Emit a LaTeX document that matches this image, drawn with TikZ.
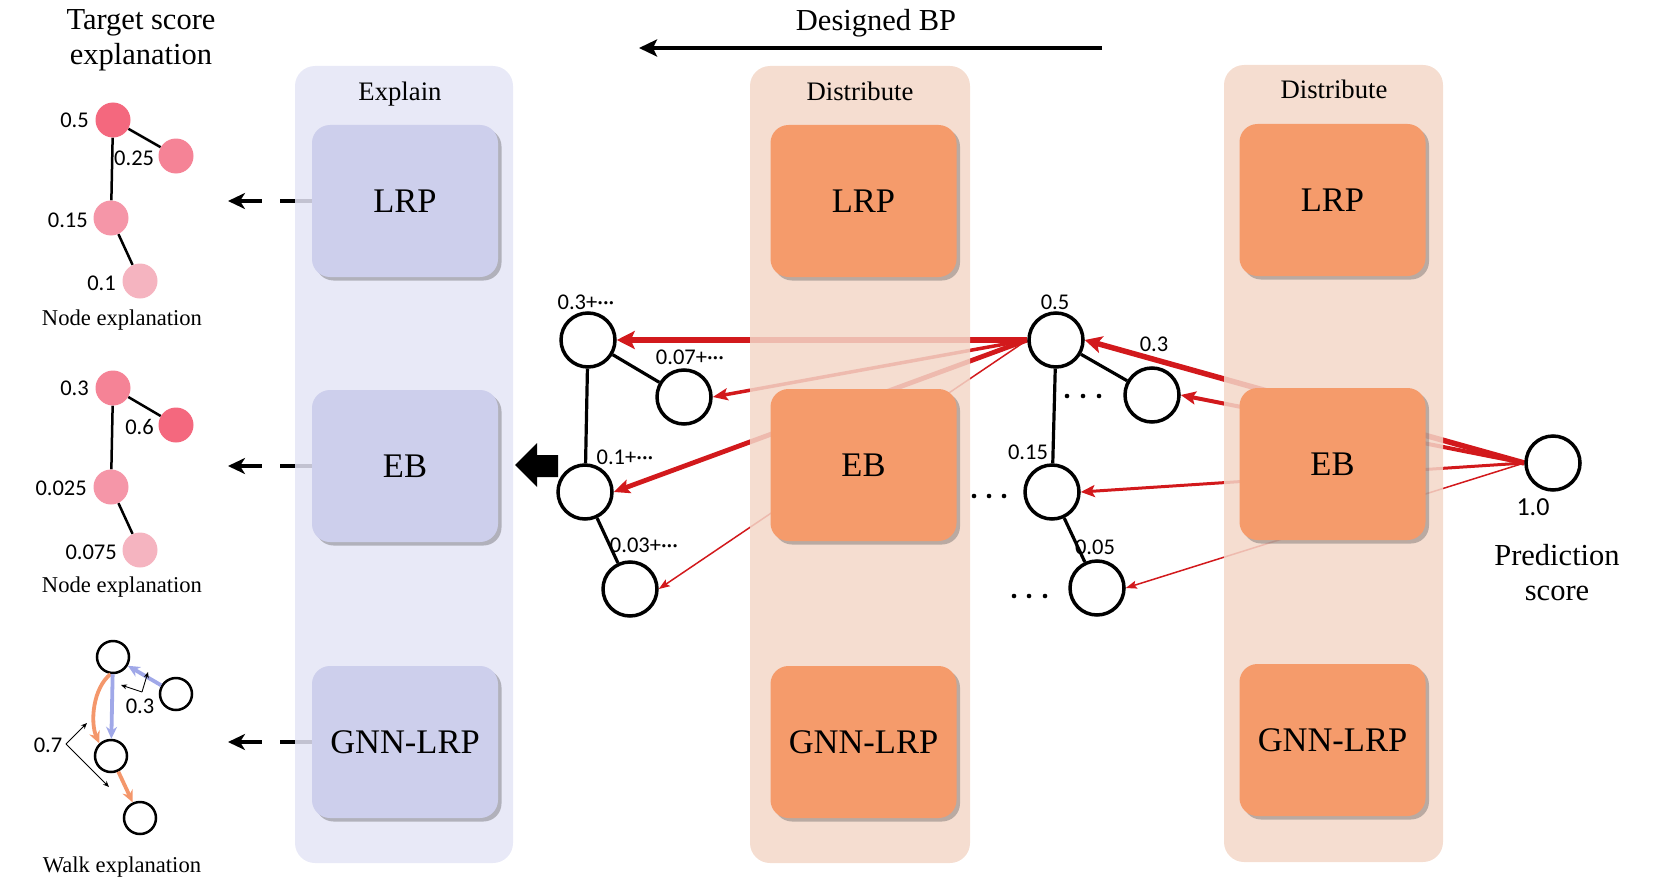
\documentclass[tikz,border=0pt]{standalone}
\usepackage{fontspec}
\setmainfont{Liberation Serif}
\newfontfamily\numfont{Carlito}
\usetikzlibrary{arrows.meta,shadows}
\pgfdeclarelayer{lines}
\pgfdeclarelayer{panels}
\pgfsetlayers{lines,panels,main}
\definecolor{exPanel}{RGB}{228,229,246}
\definecolor{exBox}{RGB}{205,207,236}
\definecolor{diPanel}{RGB}{243,215,200}
\definecolor{diBox}{RGB}{245,155,107}
\definecolor{redA}{RGB}{210,25,28}
\definecolor{pinkA}{RGB}{244,104,126}
\definecolor{pinkB}{RGB}{245,131,150}
\definecolor{pinkC}{RGB}{245,150,168}
\definecolor{pinkD}{RGB}{245,180,192}
\definecolor{walkBlue}{RGB}{160,168,232}
\definecolor{walkOrange}{RGB}{244,151,107}
\begin{document}
\begin{tikzpicture}[x=1pt,y=-1pt,
  methbox/.style={rounded corners=18pt, minimum width=186pt, minimum height=152pt, inner sep=0pt,
    font=\fontsize{34.5}{40}\selectfont,
    drop shadow={shadow xshift=3.5pt, shadow yshift=-3.5pt, opacity=0.35, fill=black!70}},
  exbox/.style={methbox, fill=exBox},
  dibox/.style={methbox, fill=diBox},
  pnode/.style={circle, minimum size=35pt, inner sep=0pt},
  wnode/.style={circle, draw, line width=2.5pt, fill=white, minimum size=32pt, inner sep=0pt},
  gnode/.style={circle, draw, line width=3.5pt, fill=white, minimum size=54pt, inner sep=0pt},
  numlab/.style={font=\numfont\fontsize{22.5}{26}\selectfont, inner sep=0pt},
  serlab/.style={font=\fontsize{22.6}{27}\selectfont, inner sep=0pt},
  biglab/.style={font=\fontsize{30.5}{36}\selectfont, inner sep=0pt, anchor=base},
  panlab/.style={font=\fontsize{26.7}{31}\selectfont, inner sep=0pt, anchor=base},
  pedge/.style={line width=2.5pt},
  gedge/.style={line width=3.2pt},
  dasharr/.style={line width=3.5pt, dash pattern=on 32pt off 18pt on 300pt,
    -{Stealth[length=17pt,width=16pt,inset=5pt]}},
  redarr/.style={draw=redA, color=redA},
  walkarr/.style={line width=3.8pt, -{Stealth[length=12pt,width=11pt]}},
  annot/.style={line width=0.9pt, -{Stealth[length=6pt,width=5pt]}},
  dotmark/.style={circle, fill=black, inner sep=0pt, minimum size=4.6pt}
]
\useasboundingbox (0,0) rectangle (1661,888);

% ---------- titles ----------
\node[biglab] (t1) at (141,30) {Target score};
\node[biglab] (t2) at (141,65) {explanation};
\node[biglab] (bp) at (876,31) {Designed BP};
\coordinate (bpR) at (1102,48);
\coordinate (bpL) at (639,48);
\draw[line width=3.3pt, -{Stealth[length=18pt,width=17pt,inset=4pt]}] (bpR) -- (bpL);

% ---------- panels ----------
\begin{pgfonlayer}{panels}
  \fill[exPanel, opacity=0.85, rounded corners=20pt] (295,66) rectangle (513,863);
  \fill[diPanel, opacity=0.85, rounded corners=20pt] (750,66) rectangle (970,863);
  \fill[diPanel, opacity=0.85, rounded corners=20pt] (1224,65) rectangle (1443,862);
\end{pgfonlayer}
\node[panlab] (pl1) at (400,101) {Explain};
\node[panlab] (pl2) at (860,101) {Distribute};
\node[panlab] (pl3) at (1334,99) {Distribute};

% ---------- method boxes ----------
\node[exbox] (exLRP) at (405,201) {LRP};
\node[exbox] (exEB)  at (405,466) {EB};
\node[exbox] (exGNN) at (405,742) {GNN-LRP};
\node[dibox] (d1LRP) at (863.5,201) {LRP};
\node[dibox] (d1EB)  at (863.5,465) {EB};
\node[dibox] (d1GNN) at (863.5,742) {GNN-LRP};
\node[dibox] (d2LRP) at (1332.5,200) {LRP};
\node[dibox] (d2EB)  at (1332.5,464) {EB};
\node[dibox] (d2GNN) at (1332.5,740) {GNN-LRP};

% ---------- left explanation graphs ----------
\node[pnode, fill=pinkA] (a1) at (113,120) {};
\node[pnode, fill=pinkB] (a2) at (176,156) {};
\node[pnode, fill=pinkC] (a3) at (111,218) {};
\node[pnode, fill=pinkD] (a4) at (140,281) {};
\node[numlab, anchor=east] (la1) at (89,120) {0.5};
\node[numlab, anchor=west] (la2) at (114,158) {0.25};
\node[numlab, anchor=east] (la3) at (88,220) {0.15};
\node[numlab, anchor=east] (la4) at (116,283) {0.1};
\node[serlab] (ne1) at (122,320) {Node explanation};

\node[pnode, fill=pinkB] (b1) at (113,388) {};
\node[pnode, fill=pinkA] (b2) at (176,425) {};
\node[pnode, fill=pinkC] (b3) at (111,487) {};
\node[pnode, fill=pinkD] (b4) at (140,550) {};
\node[numlab, anchor=east] (lb1) at (89,388) {0.3};
\node[numlab, anchor=east] (lb2) at (154,427) {0.6};
\node[numlab, anchor=east] (lb3) at (87,488) {0.025};
\node[numlab, anchor=east] (lb4) at (117,552) {0.075};
\node[serlab] (ne2) at (122,587) {Node explanation};

\node[wnode] (w1) at (113,657) {};
\node[wnode] (w2) at (176,694) {};
\node[wnode] (w3) at (111,756) {};
\node[wnode] (w4) at (140,818) {};
\node[serlab] (we) at (122,867) {Walk explanation};

\draw[walkarr, walkOrange] (w1.262) .. controls (93,688) and (90,722) .. (w3.133);
\draw[walkarr, walkBlue] (w2) -- (w1);
\draw[walkarr, walkBlue] (w1) -- (w3);
\draw[walkarr, walkOrange] (w3) -- (w4);
\node[numlab] (l03) at (140,706) {0.3};
\coordinate (o03) at (142,692);
\coordinate (e03a) at (121,685);
\coordinate (e03b) at (148,672);
\draw[annot] (o03) -- (e03a);
\draw[annot] (o03) -- (e03b);
\node[numlab] (l07) at (48,745) {0.7};
\coordinate (o07) at (66,744);
\coordinate (e07a) at (87,723);
\coordinate (e07b) at (109,787);
\draw[annot] (o07) -- (e07a);
\draw[annot] (o07) -- (e07b);

% ---------- middle graph ----------
\node[gnode] (n1) at (588,340) {};
\node[gnode] (n2) at (684,397) {};
\node[gnode] (n3) at (585,492) {};
\node[gnode] (n4) at (630,589) {};
\node[numlab] (ln1) at (586,302) {0.3+···};
\node[numlab] (ln2) at (690,357) {0.07+···};
\node[numlab] (ln3) at (625,457) {0.1+···};
\node[numlab] (ln4) at (644,545) {0.03+···};

% ---------- right graph ----------
\node[gnode] (m1) at (1056,340) {};
\node[gnode] (m2) at (1152,395) {};
\node[gnode] (m3) at (1052,492) {};
\node[gnode] (m4) at (1097,588) {};
\node[numlab] (lm1) at (1055,302) {0.5};
\node[numlab] (lm2) at (1154,344) {0.3};
\node[numlab] (lm3) at (1028,452) {0.15};
\node[numlab] (lm4) at (1095,547) {0.05};
\foreach \x/\y in {1067/396,1083/396,1099/396,974/496,989/496,1004/496,1014/596,1029/596,1045/596}
  \node[dotmark] at (\x,\y) {};

% ---------- prediction ----------
\node[gnode] (P) at (1553,463) {};
\node[numlab, font=\numfont\fontsize{26}{30}\selectfont] (lP) at (1533,507) {1.0};
\node[biglab] (pr1) at (1557,565) {Prediction};
\node[biglab] (pr2) at (1557,600) {score};

% ---------- block arrow ----------
\fill (515,465) -- (537,443) -- (537,455) -- (558,455) -- (558,477) -- (537,477) -- (537,487) -- cycle;

% ---------- lines below panels ----------
\begin{pgfonlayer}{lines}
  \draw[pedge] (a1) -- (a2);
  \draw[pedge] (a1) -- (a3);
  \draw[pedge] (a3) -- (a4);
  \draw[pedge] (b1) -- (b2);
  \draw[pedge] (b1) -- (b3);
  \draw[pedge] (b3) -- (b4);
  \draw[gedge] (n1) -- (n2);
  \draw[gedge] (n1) -- (n3);
  \draw[gedge] (n3) -- (n4);
  \draw[gedge] (m1) -- (m2);
  \draw[gedge] (m1) -- (m3);
  \draw[gedge] (m3) -- (m4);
  \coordinate (dl1) at (228,201);
  \coordinate (dl2) at (228,466);
  \coordinate (dl3) at (228,742);
  \draw[dasharr] (exLRP.west) -- (dl1);
  \draw[dasharr] (exEB.west) -- (dl2);
  \draw[dasharr] (exGNN.west) -- (dl3);
  % prediction -> layer 2
  \draw[redarr, line width=5.5pt, -{Stealth[length=17pt,width=17pt,inset=4pt]}] (P.west) -- (m1.east);
  \draw[redarr, line width=4pt, -{Stealth[length=15pt,width=13pt,inset=3pt]}] (P.west) -- (m2.east);
  \draw[redarr, line width=3pt, -{Stealth[length=14pt,width=12pt,inset=3pt]}] (P.west) -- (m3.east);
  \draw[redarr, line width=1.5pt, -{Stealth[length=11pt,width=8pt,inset=2pt]}] (P.west) -- (m4.east);
  % layer 2 -> layer 1
  \draw[redarr, line width=6.5pt, -{Stealth[length=18pt,width=18pt,inset=4pt]}] (m1.west) -- (n1.east);
  \draw[redarr, line width=3.5pt, -{Stealth[length=15pt,width=12pt,inset=3pt]}] (m1.west) -- (n2.east);
  \draw[redarr, line width=4.8pt, -{Stealth[length=16pt,width=14pt,inset=3pt]}] (m1.west) -- (n3.east);
  \draw[redarr, line width=1.5pt, -{Stealth[length=11pt,width=8pt,inset=2pt]}] (m1.west) -- (n4.east);
\end{pgfonlayer}
\end{tikzpicture}
\end{document}
